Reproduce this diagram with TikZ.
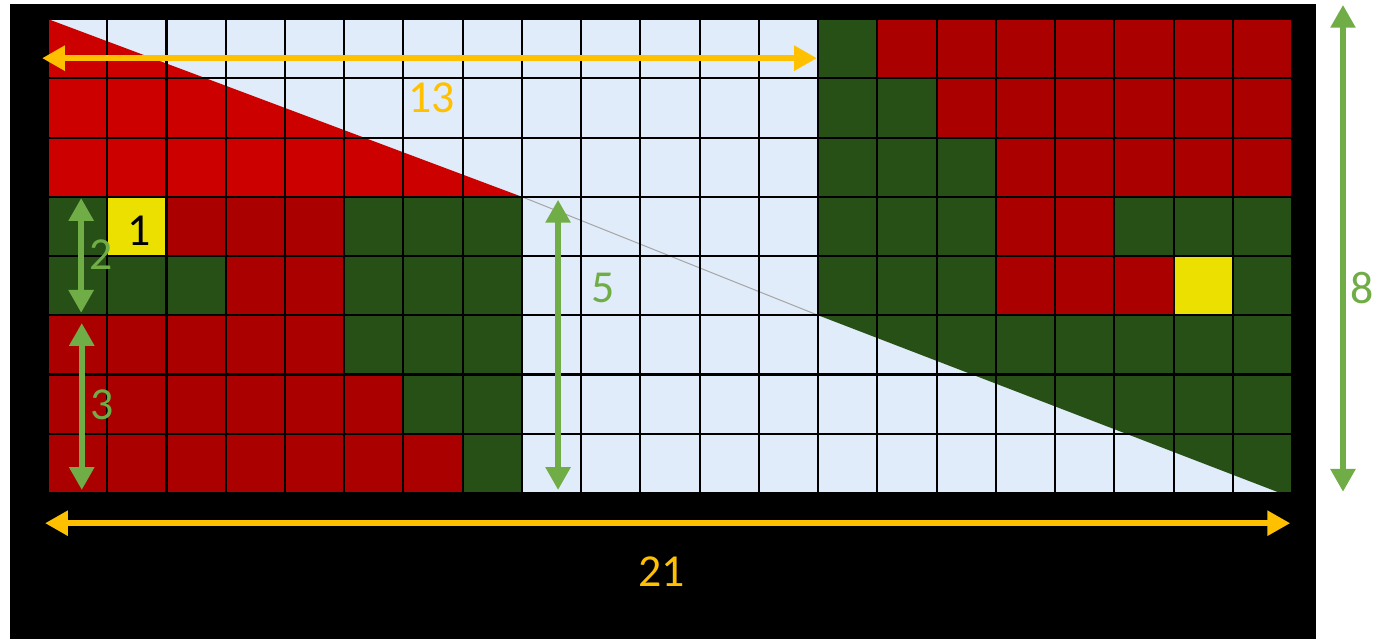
\documentclass[tikz,border=0pt]{standalone}
\usepackage{fontspec}
\setmainfont{Carlito}
\usetikzlibrary{arrows.meta}

\definecolor{cellred}{RGB}{170,0,0}
\definecolor{flagred}{RGB}{205,0,0}
\definecolor{cellgreen}{RGB}{38,80,22}
\definecolor{cellyellow}{RGB}{236,224,0}
\definecolor{paper}{RGB}{225,236,250}
\definecolor{dimorange}{RGB}{255,192,0}
\definecolor{dimgreen}{RGB}{112,173,71}

\begin{document}
\begin{tikzpicture}[
        redcell/.style={fill=cellred},
        greencell/.style={fill=cellgreen},
        yellowcell/.style={fill=cellyellow},
        gridline/.style={draw=black, line width=1pt},
        dimline/.style={
          {Triangle[length=11pt,width=11.5pt]}-{Triangle[length=11pt,width=11.5pt]},
          line width=3pt
        },
        dimlabel/.style={font=\fontsize{22}{26}\selectfont, inner sep=0pt}
    ]

    % Frame and background
    \useasboundingbox (-0.81,-2.465) rectangle (22.485,8.322);
    \fill[black] (-0.641,-2.465) rectangle (21.405,8.255);
    \fill[paper] (0,0) rectangle (21,8);

    % Red triangle and the diagonal
    \fill[flagred] (0,8) -- (8,5) -- (0,5) -- cycle;
    \fill[greencell] (13,3) -- (21,3) -- (21,0) -- (20.8,0) -- cycle;
    \draw[gray!70, line width=0.5pt] (8,5) -- (13,3);

    % Coloured cells (row y, then columns)
    \fill[redcell] (0,0) rectangle (8,5);
    \foreach \y/\cols in {7/{14,...,20}, 6/{15,...,20}, 5/{16,...,20},
                          4/{16,17}, 3/{16,17,18}}
      {\foreach \c in \cols {\fill[redcell] (\c,\y) rectangle ++(1,1);}}
    \foreach \y/\cols in {7/{13}, 6/{13,14}, 5/{13,14,15},
                          4/{0,5,6,7,13,14,15,18,19,20}, 3/{0,1,2,5,6,7,13,14,15,20},
                          2/{5,6,7}, 1/{6,7}, 0/{7}}
      {\foreach \c in \cols {\fill[greencell] (\c,\y) rectangle ++(1,1);}}
    \fill[yellowcell] (1,4) rectangle ++(1,1);
    \fill[yellowcell] (19,3) rectangle ++(1,1);

    % Grid
    \draw[gridline] (0,0) grid (21,8);
    \node[dimlabel] (one) at (1.54,4.42) {1};

    % Dimension arrows
    \coordinate (topL) at (-0.10,7.34);
    \coordinate (topR) at (12.98,7.34);
    \coordinate (botL) at (-0.05,-0.51);
    \coordinate (botR) at (20.97,-0.51);
    \draw[dimline, dimorange] (topL) -- (topR);
    \draw[dimline, dimorange] (botL) -- (botR);
    \node[dimlabel, text=dimorange] (len13) at (6.48,6.67) {13};
    \node[dimlabel, text=dimorange] (len21) at (10.36,-1.33) {21};

    \coordinate (twoT) at (0.56,4.98);
    \coordinate (twoB) at (0.56,3.04);
    \coordinate (threeT) at (0.57,2.87);
    \coordinate (threeB) at (0.57,0.05);
    \coordinate (fiveT) at (8.61,4.95);
    \coordinate (fiveB) at (8.61,0.05);
    \coordinate (eightT) at (21.86,8.24);
    \coordinate (eightB) at (21.86,0.02);
    \draw[dimline, dimgreen] (twoT) -- (twoB);
    \draw[dimline, dimgreen] (threeT) -- (threeB);
    \draw[dimline, dimgreen] (fiveT) -- (fiveB);
    \draw[dimline, dimgreen] (eightT) -- (eightB);
    \node[dimlabel, text=dimgreen] (len2) at (0.90,4.03) {2};
    \node[dimlabel, text=dimgreen] (len3) at (0.91,1.49) {3};
    \node[dimlabel, text=dimgreen] (len5) at (9.37,3.46) {5};
    \node[dimlabel, text=dimgreen] (len8) at (22.18,3.46) {8};

\end{tikzpicture}
\end{document}
